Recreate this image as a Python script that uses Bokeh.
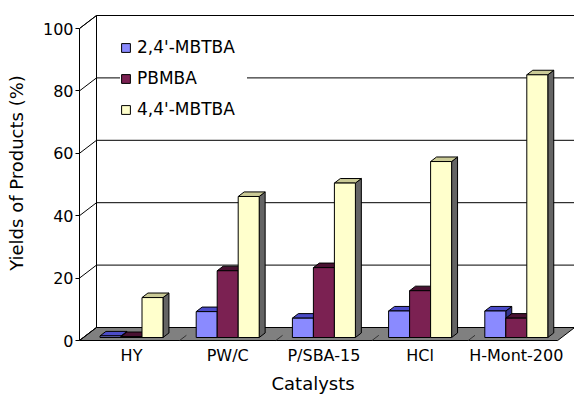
from bokeh.plotting import figure
from bokeh.models import Range1d, FixedTicker, Legend, LegendItem, Title
from bokeh.embed import file_html
from bokeh.resources import INLINE

# ---- data -------------------------------------------------------------
catalysts = ["HY", "PW/C", "P/SBA-15", "HCl", "H-Mont-200"]
series_names = ["2,4'-MBTBA", "PBMBA", "4,4'-MBTBA"]
mbtba_24 = [0.5, 8.3, 6.2, 8.5, 8.5]
pbmba = [0.3, 21.4, 22.4, 15.0, 6.2]
mbtba_44 = [12.8, 45.2, 49.5, 56.4, 84.2]
y_ticks = [0, 20, 40, 60, 80, 100]

series_values = [mbtba_24, pbmba, mbtba_44]

# ---- styling ----------------------------------------------------------
FRONT = ["#8A8AFF", "#7B2152", "#FFFFCC"]
TOP = ["#4B4BC8", "#4A1232", "#CACA96"]
SIDE = ["#34348E", "#38091F", "#646464"]
FLOOR = "#808080"
FONT = "DejaVu Sans"

# ---- page / frame geometry (pixels) ----------------------------------
W, H = 574, 396
FRAME_L, FRAME_B = 79, 345
GROUP_PX = 96.2          # pixels between category centres
FIRST_GROUP_PX = 131     # centre of the first category
UNIT_PX = 3.12           # pixels per percent
ZERO_PX = 340            # front baseline
DEPTH_X_PX, DEPTH_Y_PX = 17, 13   # oblique depth of the chart box

x_start = -(FIRST_GROUP_PX - FRAME_L) / GROUP_PX
x_end = x_start + (W - FRAME_L) / GROUP_PX
y_start = -(FRAME_B - ZERO_PX) / UNIT_PX
y_end = ZERO_PX / UNIT_PX

DX = DEPTH_X_PX / GROUP_PX
DY = DEPTH_Y_PX / UNIT_PX
BAR_W = 21 / GROUP_PX
BAR_FRONT = 0.23   # depth of the bars' front faces
BAR_DEPTH = 0.35   # depth of a bar
FLOOR_R = 4.43


def proj(gx, v, d):
    """Oblique projection of (category x, value, depth 0..1) to data space."""
    return gx + d * DX, v + d * DY


p = figure(width=W, height=H,
           x_range=Range1d(x_start, x_end), y_range=Range1d(y_start, y_end),
           output_backend="svg", toolbar_location=None,
           min_border_left=FRAME_L, min_border_right=0,
           min_border_top=0, min_border_bottom=H - FRAME_B,
           outline_line_color=None, background_fill_color="white")
p.grid.visible = False

# ---- walls and floor --------------------------------------------------
xl = x_start
far = x_end + 1
wall_xs, wall_ys = [], []
for pts in ([proj(xl, 0, 0), proj(xl, 0, 1), proj(xl, 100, 1), proj(xl, 100, 0)],
            [proj(xl, 0, 1), proj(far, 0, 1), proj(far, 100, 1), proj(xl, 100, 1)]):
    wall_xs.append([q[0] for q in pts])
    wall_ys.append([q[1] for q in pts])
p.patches(wall_xs, wall_ys, fill_color="white", line_color="black", line_width=1)

floor_pts = [proj(xl, 0, 0), proj(FLOOR_R, 0, 0), proj(FLOOR_R, 0, 1), proj(xl, 0, 1)]
p.patch([q[0] for q in floor_pts], [q[1] for q in floor_pts],
        fill_color=FLOOR, line_color="black", line_width=1)

# grid lines on the back wall and the left wall
gx0, gy0, gx1, gy1 = [], [], [], []
for v in y_ticks[1:-1]:
    a, b = proj(xl, v, 1), proj(far, v, 1)
    gx0.append(a[0]); gy0.append(a[1]); gx1.append(b[0]); gy1.append(b[1])
for v in y_ticks:
    a, b = proj(xl, v, 0), proj(xl, v, 1)
    gx0.append(a[0]); gy0.append(a[1]); gx1.append(b[0]); gy1.append(b[1])
p.segment(gx0, gy0, gx1, gy1, line_color="black", line_width=1)

# category dividers on the floor
dx0, dy0, dx1, dy1 = [], [], [], []
for i in range(len(catalysts) - 1):
    a, b = proj(i + 0.5, 0, 0), proj(i + 0.5, 0, 0.4)
    dx0.append(a[0]); dy0.append(a[1]); dx1.append(b[0]); dy1.append(b[1])
p.segment(dx0, dy0, dx1, dy1, line_color="#333333", line_width=1)

# ---- 3-D bars ---------------------------------------------------------
bdx, bdy = BAR_DEPTH * DX, BAR_DEPTH * DY
legend_items = []
for s, vals in enumerate(series_values):
    lefts, rights, bottoms, tops = [], [], [], []
    top_xs, top_ys, side_xs, side_ys = [], [], [], []
    for i, v in enumerate(vals):
        left = i - 1.5 * BAR_W + s * BAR_W
        right = left + BAR_W
        bottom = BAR_FRONT * DY
        top = v + BAR_FRONT * DY
        lefts.append(left); rights.append(right)
        bottoms.append(bottom); tops.append(top)
        top_xs.append([left, right, right + bdx, left + bdx])
        top_ys.append([top, top, top + bdy, top + bdy])
        side_xs.append([right, right + bdx, right + bdx, right])
        side_ys.append([bottom, bottom + bdy, top + bdy, top])
    p.patches(side_xs, side_ys, fill_color=SIDE[s], line_color="black", line_width=1)
    p.patches(top_xs, top_ys, fill_color=TOP[s], line_color="black", line_width=1)
    front = p.quad(left=lefts, right=rights, bottom=bottoms, top=tops,
                   fill_color=FRONT[s], line_color="black", line_width=1)
    legend_items.append(LegendItem(label=series_names[s], renderers=[front]))

# ---- axes -------------------------------------------------------------
yax = p.yaxis[0]
yax.ticker = FixedTicker(ticks=y_ticks)
yax.bounds = (0, 100)
yax.axis_line_color = "black"
yax.major_tick_in = 0
yax.major_tick_out = 4
yax.minor_tick_line_color = None
yax.major_label_standoff = 2
yax.major_label_text_font = FONT
yax.major_label_text_font_size = "16px"
yax.major_label_text_color = "black"
yax.axis_label = "Yields of Products (%)"
yax.axis_label_text_font = FONT
yax.axis_label_text_font_size = "18px"
yax.axis_label_text_font_style = "normal"
yax.axis_label_text_color = "black"
yax.axis_label_standoff = 13

xax = p.xaxis[0]
xax.ticker = FixedTicker(ticks=list(range(len(catalysts))))
xax.major_label_overrides = {i: name for i, name in enumerate(catalysts)}
xax.axis_line_color = None
xax.major_tick_line_color = None
xax.minor_tick_line_color = None
xax.major_tick_out = 0
xax.major_tick_in = 0
xax.major_label_standoff = 0
xax.major_label_text_font = FONT
xax.major_label_text_font_size = "16px"
xax.major_label_text_color = "black"

p.add_layout(Title(text="Catalysts", align="left", offset=192,
                   text_font=FONT, text_font_size="18px",
                   text_font_style="normal", text_color="black", standoff=6),
             "below")

# ---- legend -----------------------------------------------------------
legend = Legend(items=legend_items, location=(41, 226),
                background_fill_color="white", background_fill_alpha=1.0,
                border_line_color=None, padding=8, margin=0, spacing=11,
                label_height=19, label_width=110, glyph_height=11, glyph_width=11,
                label_standoff=6, label_text_font=FONT,
                label_text_font_size="17px", label_text_color="black")
p.add_layout(legend)

open("out.html", "w").write(file_html(p, INLINE))
